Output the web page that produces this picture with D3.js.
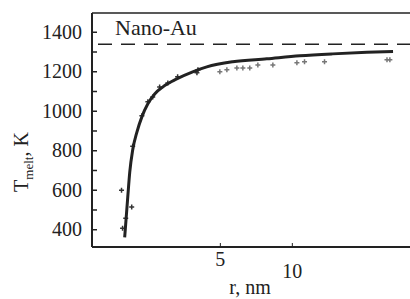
<!DOCTYPE html>
<html>
<head>
<meta charset="utf-8">
<script src="https://cdn.jsdelivr.net/npm/d3@7"></script>
<style>
body { margin: 0; background: #fff; }
text { font-family: "Liberation Serif", "Times New Roman", serif; fill: #222; }
</style>
</head>
<body>
<div id="chart"></div>
<script>
// fitted curve (r in nm, T in K)
var curveR = [2.00, 2.06, 2.10, 2.16, 2.25, 2.36, 2.50, 2.67, 2.89, 3.30, 3.85, 4.41, 5.66, 7.86, 10.8, 14.8, 20.6, 26.5];
var curveT = [359, 562, 689, 801, 892, 969, 1035, 1085, 1121, 1161, 1197, 1222, 1248, 1263, 1278, 1288, 1296, 1300];

// simulation points
var ptsR = [1.94, 2.14, 1.96, 2.02, 2.16, 2.36, 2.50, 2.62, 2.80, 3.03, 3.33, 4.01, 4.05,
            5.0, 5.35, 5.89, 6.24, 6.67, 7.21, 8.33, 10.5, 11.3, 13.7, 25.0, 25.7];
var ptsT = [598, 512, 405, 456, 820, 975, 1045, 1070, 1120, 1141, 1172, 1192, 1207,
            1197, 1207, 1217, 1217, 1217, 1232, 1232, 1243, 1248, 1248, 1258, 1258];

var bulkT = 1337;
var yTicks = [400, 500, 600, 700, 800, 900, 1000, 1100, 1200, 1300, 1400];
var xTicks = [5, 10];

var width = 410, height = 299;
var plotL = 92, plotR = 410, plotT = 13, plotB = 247;

var svg = d3.select("#chart").append("svg")
    .attr("width", width)
    .attr("height", height);

var x = d3.scaleLog().domain([1.46, 31.2]).range([plotL, plotR]);
var y = d3.scaleLinear().domain([310, 1495]).range([plotB, plotT]);

// frame
svg.append("line").attr("x1", plotL).attr("x2", plotR).attr("y1", plotT).attr("y2", plotT)
    .attr("stroke", "#222").attr("stroke-width", 1.5);

// dashed bulk line
svg.append("line")
    .attr("x1", plotL + 6).attr("x2", plotR)
    .attr("y1", y(bulkT)).attr("y2", y(bulkT))
    .attr("stroke", "#222").attr("stroke-width", 1.6)
    .attr("stroke-dasharray", "14,9");

svg.append("text")
    .attr("x", 115).attr("y", 35)
    .style("font-size", "22px")
    .text("Nano-Au");

// y axis
var yAxis = d3.axisLeft(y)
    .tickValues(yTicks)
    .tickSize(-5)
    .tickPadding(10)
    .tickFormat(function(d) { return d % 200 == 0 ? d : ""; });

var gy = svg.append("g")
    .attr("transform", "translate(" + plotL + ",0)")
    .call(yAxis);
gy.select(".domain").attr("stroke", "#222").attr("stroke-width", 2)
    .attr("d", "M0," + plotT + "V" + plotB);
gy.selectAll(".tick line").attr("stroke", "#222").attr("stroke-width", 1.5);
gy.selectAll(".tick text").style("font-size", "20px").attr("font-family", null);

// x axis
var xAxis = d3.axisBottom(x)
    .tickValues(xTicks)
    .tickSize(-4)
    .tickPadding(4)
    .tickFormat(d3.format("d"));

var gx = svg.append("g")
    .attr("transform", "translate(0," + plotB + ")")
    .call(xAxis);
gx.select(".domain").attr("stroke", "#222").attr("stroke-width", 2)
    .attr("d", "M" + plotL + ",0H" + plotR);
gx.selectAll(".tick line").attr("stroke", "#222").attr("stroke-width", 1);
gx.selectAll(".tick text").style("font-size", "20px").attr("font-family", null)
    .attr("dy", function(d) { return d == 10 ? "1.35em" : "0.75em"; });

// axis titles
svg.append("text")
    .attr("x", 250).attr("y", 294)
    .attr("text-anchor", "middle")
    .style("font-size", "20px")
    .text("r, nm");

var yl = svg.append("text")
    .attr("transform", "translate(28,162) rotate(-90)")
    .attr("text-anchor", "middle")
    .style("font-size", "20px");
yl.append("tspan").text("T");
yl.append("tspan").attr("dy", 5).style("font-size", "13px").text("melt");
yl.append("tspan").attr("dy", -5).text(", K");

// points
var pts = ptsR.map(function(r, i) { return [r, ptsT[i]]; });
svg.append("g").selectAll("path")
    .data(pts)
    .enter().append("path")
    .attr("transform", function(d) { return "translate(" + x(d[0]) + "," + y(d[1]) + ")"; })
    .attr("d", "M-2.5,0H2.5M0,-2.5V2.5")
    .attr("stroke", function(d) { return d[0] > 4.5 ? "#777" : "#333"; })
    .attr("stroke-width", 1.5);

// fitted curve
var curve = curveR.map(function(r, i) { return [r, curveT[i]]; });
var line = d3.line()
    .x(function(d) { return x(d[0]); })
    .y(function(d) { return y(d[1]); })
    .curve(d3.curveMonotoneX);

svg.append("path")
    .datum(curve)
    .attr("d", line)
    .attr("fill", "none")
    .attr("stroke", "#222")
    .attr("stroke-width", 3);
</script>
</body>
</html>
